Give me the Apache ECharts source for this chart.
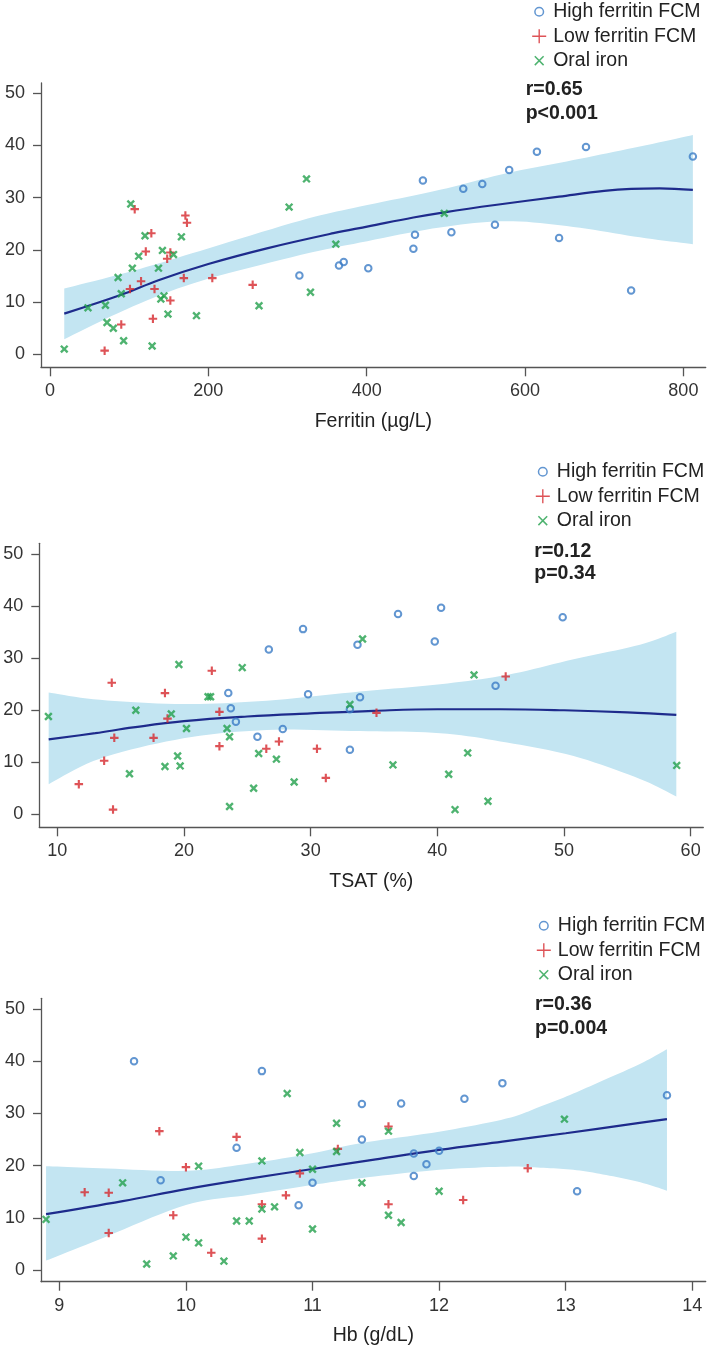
<!DOCTYPE html>
<html><head><meta charset="utf-8">
<script src="https://cdn.jsdelivr.net/npm/echarts@6/dist/echarts.min.js"></script>
<style>html,body{margin:0;padding:0;background:#fff}#c{width:711px;height:1351px}</style>
</head><body><div id="c"></div>
<script>
// ---------- DATA ----------
const groupNames = ['High ferritin FCM', 'Low ferritin FCM', 'Oral iron'];
const yTicks = [0, 10, 20, 30, 40, 50];

// Panel 1: Ferritin
const ferXTicks = [0, 200, 400, 600, 800];
const ferHigh = [[315,15.1],[365,17.0],[371,17.7],[402,16.5],[459,20.2],[461,22.9],[471,33.3],[507,23.4],[522,31.7],[546,32.6],[562,24.8],[580,35.3],[615,38.8],[643,22.3],[677,39.7],[734,12.2],[812,37.9]];
const ferLow = [[69,0.7],[90,5.7],[101,12.5],[107,27.8],[115,14.0],[121,19.7],[128,23.2],[130,6.8],[132,12.5],[148,18.3],[152,10.3],[152,19.5],[169,14.6],[171,26.6],[173,25.2],[205,14.6],[256,13.3]];
const ferOral = [[18,1.0],[48,8.9],[70,9.4],[72,6.1],[80,5.0],[86,14.7],[90,11.6],[93,2.6],[102,28.8],[104,16.5],[112,18.8],[120,22.7],[129,1.6],[137,16.5],[140,10.6],[142,19.9],[144,11.2],[149,7.7],[156,19.1],[166,22.5],[185,7.4],[264,9.3],[302,28.2],[324,33.6],[329,11.9],[361,21.1],[474,53.6],[498,27.0]];
const ferFit = [[18,7.8],[90,11.4],[137,14.2],[200,17.3],[274,20.3],[358,23.2],[402,24.5],[459,26.2],[498,27.2],[562,28.6],[643,30.2],[700,31.3],[734,31.7],[770,31.8],[812,31.5]];
const ferBandX  = [18, 105, 189.5, 316, 391.6, 492.6, 576.8, 661, 745, 812];
const ferBandLo = [2.9, 9.2, 14.0, 19.0, 21.4, 24.3, 25.5, 24.4, 22.4, 21.1];
const ferBandHi = [12.6, 16.0, 19.8, 25.6, 28.3, 31.5, 34.7, 37.2, 39.8, 42.0];
const ferStats = ['r=0.65', 'p<0.001'];

// Panel 2: TSAT
const tsatXTicks = [10, 20, 30, 40, 50, 60];
const tsatHigh = [[23.5,23.3],[23.7,20.4],[24.1,17.8],[25.8,14.9],[26.7,31.7],[27.8,16.4],[29.4,35.6],[29.8,23.1],[33.1,12.4],[33.1,20.2],[33.7,32.6],[33.9,22.5],[36.9,38.5],[39.8,33.2],[40.3,39.7],[44.6,24.7],[49.9,37.9]];
const tsatLow = [[11.7,5.8],[13.7,10.3],[14.3,25.3],[14.4,0.9],[14.5,14.7],[17.6,14.7],[18.5,23.3],[18.7,18.4],[22.2,27.6],[22.8,19.7],[22.8,13.1],[26.5,12.6],[27.5,14.0],[30.5,12.6],[31.2,7.0],[35.2,19.5],[45.4,26.5]];
const tsatOral = [[9.3,18.8],[14.95,53.5],[15.7,7.8],[16.2,20.0],[18.5,9.2],[19.0,19.3],[19.5,11.2],[19.6,28.8],[19.7,9.3],[20.2,16.5],[21.9,22.6],[22.1,22.6],[23.4,16.5],[23.6,14.9],[23.6,1.5],[24.6,28.2],[25.5,5.0],[25.9,11.7],[27.3,10.6],[28.7,6.2],[33.1,21.1],[34.1,33.7],[36.5,9.5],[40.9,7.7],[41.4,0.9],[42.4,11.8],[42.9,26.8],[44.0,2.5],[58.9,9.4]];
const tsatFit = [[9.32,14.4],[13,15.6],[16,16.7],[20,17.9],[25,18.8],[30,19.4],[35,19.9],[40,20.2],[45,20.2],[50,20.0],[55,19.6],[58.87,19.1]];
const tsatBandX  = [9.32, 13.37, 19.95, 26.54, 33.9, 40.23, 45.5, 50.76, 56, 58.87];
const tsatBandLo = [5.8, 10.7, 14.6, 16.2, 16.0, 15.6, 13.8, 11.2, 6.8, 3.4];
const tsatBandHi = [23.4, 22.0, 21.2, 21.85, 23.6, 25.0, 26.8, 29.8, 32.6, 35.1];
const tsatStats = ['r=0.12', 'p=0.34'];

// Panel 3: Hb
const hbXTicks = [9, 10, 11, 12, 13, 14];
const hbHigh = [[9.59,40.0],[9.8,17.2],[10.4,23.4],[10.6,38.1],[10.89,12.4],[11.0,16.7],[11.39,25.0],[11.39,31.8],[11.7,31.9],[11.8,22.3],[11.8,18.0],[11.9,20.25],[12.0,22.85],[12.2,32.8],[12.5,35.8],[13.09,15.1],[13.8,33.5]];
const hbLow = [[9.2,14.9],[9.39,14.8],[9.39,7.1],[9.79,26.6],[9.9,10.5],[10.0,19.7],[10.2,3.3],[10.4,25.5],[10.6,12.6],[10.6,6.0],[10.79,14.3],[10.9,18.5],[11.2,23.2],[11.6,27.5],[11.6,12.6],[12.19,13.4],[12.7,19.5]];
const hbOral = [[8.895,9.7],[9.5,16.7],[9.69,1.15],[9.9,2.7],[10.0,6.3],[10.1,5.2],[10.1,19.9],[10.3,1.7],[10.4,9.4],[10.5,9.4],[10.6,20.9],[10.6,11.7],[10.7,12.1],[10.8,33.8],[10.9,22.5],[11.0,19.3],[11.0,7.85],[11.09,53.6],[11.19,28.1],[11.19,22.7],[11.39,16.7],[11.6,26.6],[11.6,10.5],[11.7,9.1],[12.0,15.1],[12.99,28.9]];
const hbFit = [[8.895,10.7],[9.5,13.2],[10,15.5],[10.5,17.5],[11,19.35],[11.5,21.2],[12,23.0],[12.5,24.6],[13,26.2],[13.5,27.9],[13.8,28.9]];
const hbBandX  = [8.895, 9.32, 10.0, 10.5, 11.0, 11.38, 12.0, 12.53, 12.8, 13.06, 13.32, 13.59, 13.8];
const hbBandLo = [1.8, 5.9, 12.45, 14.4, 16.3, 17.6, 19.2, 19.8, 19.6, 19.2, 18.2, 16.8, 15.2];
const hbBandHi = [19.9, 19.5, 19.0, 20.4, 22.35, 24.3, 26.5, 29.0, 31.3, 33.8, 36.6, 39.5, 42.3];
const hbStats = ['r=0.36', 'p=0.004'];

// ---------- STYLE / LAYOUT ----------
const FONT = "'Liberation Sans', Arial, Helvetica, sans-serif";
const BLUE = '#3b7cc6', RED = '#d6282d', GREEN = '#23a04c', NAVY = '#1e2b8c', BAND = '#c3e5f2', AXIS = '#555', TXT = '#222';
const PLUS = 'path://M3,0H5V3H8V5H5V8H3V5H0V3H3Z';

const panels = [
  { high: ferHigh, low: ferLow, oral: ferOral, fit: ferFit, bx: ferBandX, lo: ferBandLo, hi: ferBandHi, ticks: ferXTicks, name: 'Ferritin (µg/L)', stats: ferStats,
    grid: { left: 41, top: 83, width: 664.7, height: 284.3 }, xMin: -11.37, xMax: 828.2, yMin: -2.49, yMax: 51.97,
    legend: { left: 527.7, top: 1.7 }, statPos: [525.7, 90, 113.3] },
  { high: tsatHigh, low: tsatLow, oral: tsatOral, fit: tsatFit, bx: tsatBandX, lo: tsatBandLo, hi: tsatBandHi, ticks: tsatXTicks, name: 'TSAT (%)', stats: tsatStats,
    grid: { left: 39.3, top: 543.3, width: 664, height: 284 }, xMin: 8.58, xMax: 61.0, yMin: -2.5, yMax: 52.1,
    legend: { left: 531.3, top: 461.7 }, statPos: [534.3, 551.7, 573.3] },
  { high: hbHigh, low: hbLow, oral: hbOral, fit: hbFit, bx: hbBandX, lo: hbBandLo, hi: hbBandHi, ticks: hbXTicks, name: 'Hb (g/dL)', stats: hbStats,
    grid: { left: 41, top: 998.3, width: 664.7, height: 283.4 }, xMin: 8.855, xMax: 14.106, yMin: -2.24, yMax: 52.05,
    legend: { left: 532.3, top: 915.7 }, statPos: [535, 1004.3, 1028.3] }
];

function spline(pts) {
  const out = [], n = pts.length, S = 10;
  for (let i = 0; i < n - 1; i++) {
    const p0 = pts[Math.max(i - 1, 0)], p1 = pts[i], p2 = pts[i + 1], p3 = pts[Math.min(i + 2, n - 1)];
    for (let s = 0; s < S; s++) {
      const t = s / S, t2 = t * t, t3 = t2 * t;
      const f = (a, b, c, d) => 0.5 * ((2 * b) + (-a + c) * t + (2 * a - 5 * b + 4 * c - d) * t2 + (-a + 3 * b - 3 * c + d) * t3);
      out.push([f(p0[0], p1[0], p2[0], p3[0]), f(p0[1], p1[1], p2[1], p3[1])]);
    }
  }
  out.push(pts[n - 1]);
  return out;
}

const grids = [], xAxes = [], yAxes = [], series = [], legends = [], graphics = [];
panels.forEach((pn, k) => {
  grids.push(Object.assign({ outerBoundsMode: 'none', containLabel: false }, pn.grid));
  xAxes.push({
    type: 'value', gridIndex: k, min: pn.xMin, max: pn.xMax,
    name: pn.name, nameLocation: 'middle', nameGap: 44,
    nameTextStyle: { fontSize: 19.5, color: TXT, fontFamily: FONT },
    axisLine: { show: true, onZero: false, lineStyle: { color: AXIS, width: 1.3 } },
    axisTick: { show: true, length: 9, customValues: pn.ticks, lineStyle: { color: AXIS, width: 1.3 } },
    axisLabel: { customValues: pn.ticks, margin: 15, fontSize: 18, color: '#333', fontFamily: FONT },
    splitLine: { show: false }
  });
  yAxes.push({
    type: 'value', gridIndex: k, min: pn.yMin, max: pn.yMax,
    axisLine: { show: true, onZero: false, lineStyle: { color: AXIS, width: 1.3 } },
    axisTick: { show: true, length: 8, customValues: yTicks, lineStyle: { color: AXIS, width: 1.3 } },
    axisLabel: { customValues: yTicks, margin: 16, fontSize: 18, color: '#333', fontFamily: FONT },
    splitLine: { show: false }
  });
  series.push({
    type: 'custom', xAxisIndex: k, yAxisIndex: k, silent: true, z: 1, data: [[pn.bx[0], pn.lo[0]]],
    renderItem: function (params, api) {
      const up = pn.bx.map((x, i) => api.coord([x, pn.hi[i]]));
      const dn = pn.bx.map((x, i) => api.coord([x, pn.lo[i]]));
      const pts = spline(up).concat(spline(dn).reverse());
      return { type: 'polygon', shape: { points: pts }, style: { fill: BAND } };
    }
  });
  series.push({
    type: 'line', xAxisIndex: k, yAxisIndex: k, data: pn.fit, smooth: 0.4, symbol: 'none', silent: true, z: 2,
    lineStyle: { color: NAVY, width: 2.2 }
  });
  series.push({
    name: groupNames[0], type: 'scatter', xAxisIndex: k, yAxisIndex: k, data: pn.high, z: 3,
    symbol: 'circle', symbolSize: 6.5,
    itemStyle: { color: 'rgba(0,0,0,0)', borderColor: BLUE, borderWidth: 2 }
  });
  series.push({
    name: groupNames[1], type: 'scatter', xAxisIndex: k, yAxisIndex: k, data: pn.low, z: 3,
    symbol: PLUS, symbolSize: 8.5, itemStyle: { color: RED }
  });
  series.push({
    name: groupNames[2], type: 'scatter', xAxisIndex: k, yAxisIndex: k, data: pn.oral, z: 3,
    symbol: PLUS, symbolSize: 9.5, symbolRotate: 45, itemStyle: { color: GREEN }
  });
  legends.push({
    orient: 'vertical', left: pn.legend.left, top: pn.legend.top, padding: 0, itemGap: 4.5,
    itemWidth: 18, itemHeight: 14, selectedMode: false,
    textStyle: { fontSize: 19.5, color: TXT, fontFamily: FONT, lineHeight: 20 },
    data: [
      { name: groupNames[0], icon: 'path://M0,0M18,14M13.3,7A4.3,4.3,0,1,1,4.7,7A4.3,4.3,0,1,1,13.3,7Z',
        itemStyle: { color: 'none', borderColor: BLUE, borderWidth: 1.5 } },
      { name: groupNames[1], icon: 'path://M0,0M18,14M1.5,7H16.5M9,-0.5V14.5',
        itemStyle: { color: 'none', borderColor: RED, borderWidth: 1.4 } },
      { name: groupNames[2], icon: 'path://M0,0M18,14M4.6,2.6L13.4,11.4M13.4,2.6L4.6,11.4',
        itemStyle: { color: 'none', borderColor: GREEN, borderWidth: 1.5 } }
    ]
  });
  graphics.push({ type: 'text', x: pn.statPos[0], y: pn.statPos[1], style: { text: pn.stats[0], fontSize: 19.5, fontWeight: 'bold', fontFamily: FONT, fill: TXT, verticalAlign: 'middle' } });
  graphics.push({ type: 'text', x: pn.statPos[0], y: pn.statPos[2], style: { text: pn.stats[1], fontSize: 19.5, fontWeight: 'bold', fontFamily: FONT, fill: TXT, verticalAlign: 'middle' } });
});

const chart = echarts.init(document.getElementById('c'), null, { renderer: 'canvas' });
chart.setOption({
  animation: false,
  backgroundColor: '#fff',
  textStyle: { fontFamily: FONT },
  grid: grids, xAxis: xAxes, yAxis: yAxes, series: series, legend: legends,
  graphic: { elements: graphics }
});
</script>
</body></html>
